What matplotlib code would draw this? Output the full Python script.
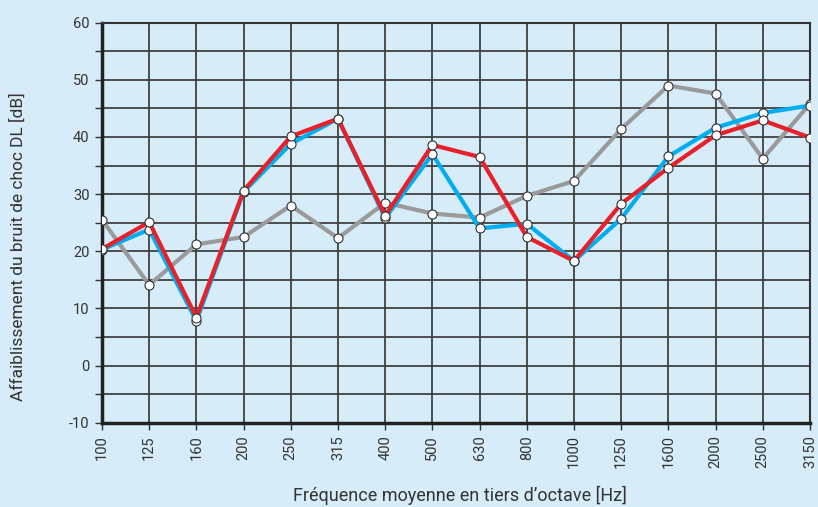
import matplotlib.pyplot as plt
import numpy as np

freqs = ["100", "125", "160", "200", "250", "315", "400", "500", "630",
         "800", "1000", "1250", "1600", "2000", "2500", "3150"]
gray_vals = [25.5, 14.1, 21.2, 22.5, 28.0, 22.3, 28.5, 26.6, 25.9,
             29.7, 32.3, 41.4, 49.0, 47.6, 36.2, 45.8]
blue_vals = [20.3, 23.8, 7.8, 30.4, 38.8, 43.2, 25.8, 37.0, 24.0,
             24.8, 18.3, 25.7, 36.6, 41.6, 44.2, 45.5]
red_vals = [20.4, 25.1, 8.4, 30.6, 40.1, 43.2, 26.2, 38.6, 36.5,
            22.5, 18.3, 28.3, 34.6, 40.3, 42.9, 39.9]

bg = "#d6ecf9"
plt.rcParams["font.family"] = ["Roboto", "DejaVu Sans"]

fig = plt.figure(figsize=(8.18, 5.07), dpi=100, facecolor=bg)
ax = fig.add_axes([0.1247, 0.1663, 0.8655, 0.789])
ax.set_facecolor(bg)

x = np.arange(len(freqs))
for vals, col, z in [(gray_vals, "#9a9a9a", 3), (blue_vals, "#00aeef", 4), (red_vals, "#e8202a", 5)]:
    ax.plot(x, vals, color=col, lw=3, zorder=z, solid_joinstyle="miter",
            marker="o", ms=6.5, mfc="white", mec="#333333", mew=0.8)

ax.set_xlim(0, len(freqs) - 1)
ax.set_ylim(-10, 60)
ax.set_xticks(x)
ax.set_xticklabels(freqs, rotation=90, fontsize=10.5, color="#333333")
ax.set_yticks(np.arange(-10, 61, 5))
ax.set_yticklabels([str(v) if v % 10 == 0 else "" for v in range(-10, 61, 5)],
                   fontsize=10.5, color="#333333")
ax.tick_params(length=5, width=1, color="#333333", pad=4)
ax.grid(True, color="#404040", lw=1.3, zorder=1)
ax.set_axisbelow(True)

for s in ["left", "bottom"]:
    ax.spines[s].set_linewidth(2.5)
    ax.spines[s].set_color("#222222")
for s in ["top", "right"]:
    ax.spines[s].set_linewidth(1.5)
    ax.spines[s].set_color("#333333")

fig.text(0.022, 0.513, "Affaiblissement du bruit de choc DL [dB]", rotation=90,
         fontsize=12.5, color="#333333", ha="center", va="center")
fig.text(0.562, 0.022, "Fréquence moyenne en tiers d\u2019octave [Hz]",
         fontsize=13, color="#333333", ha="center", va="center")

fig.savefig("out.png", dpi=100, facecolor=bg)
